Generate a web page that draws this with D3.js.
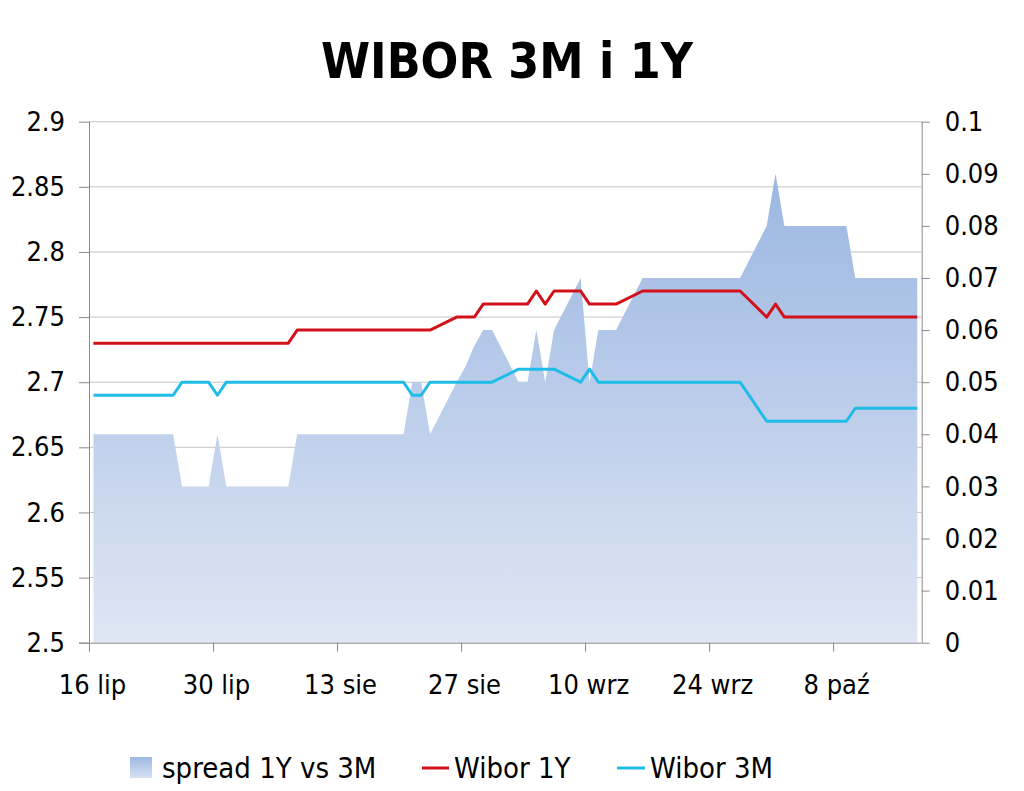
<!DOCTYPE html>
<html><head><meta charset="utf-8">
<script src="https://cdn.jsdelivr.net/npm/d3@7"></script>
<style>
html,body{margin:0;padding:0;background:#fff;}
svg{display:block;}
text{font-family:"DejaVu Sans Condensed","DejaVu Sans",Verdana,sans-serif;fill:#000;}
</style></head>
<body>
<svg id="chart" width="1024" height="791"></svg>
<script>
const dates = [
"2013-07-16","2013-07-17","2013-07-18","2013-07-19",
"2013-07-22","2013-07-23","2013-07-24","2013-07-25","2013-07-26",
"2013-07-29","2013-07-30","2013-07-31","2013-08-01","2013-08-02",
"2013-08-05","2013-08-06","2013-08-07","2013-08-08","2013-08-09",
"2013-08-12","2013-08-13","2013-08-14","2013-08-16",
"2013-08-19","2013-08-20","2013-08-21","2013-08-22","2013-08-23",
"2013-08-26","2013-08-27","2013-08-28","2013-08-29","2013-08-30",
"2013-09-02","2013-09-03","2013-09-04","2013-09-05","2013-09-06",
"2013-09-09","2013-09-10","2013-09-11","2013-09-12","2013-09-13",
"2013-09-16","2013-09-17","2013-09-18","2013-09-19","2013-09-20",
"2013-09-23","2013-09-24","2013-09-25","2013-09-26","2013-09-27",
"2013-09-30","2013-10-01","2013-10-02","2013-10-03","2013-10-04",
"2013-10-07","2013-10-08","2013-10-09","2013-10-10","2013-10-11",
"2013-10-14","2013-10-15","2013-10-16","2013-10-17"];

const wibor1Y = [
2.73,2.73,2.73,2.73,
2.73,2.73,2.73,2.73,2.73,
2.73,2.73,2.73,2.73,2.73,
2.73,2.73,2.73,2.74,2.74,
2.74,2.74,2.74,2.74,
2.74,2.74,2.74,2.74,2.74,
2.75,2.75,2.75,2.76,2.76,
2.76,2.76,2.77,2.76,2.77,
2.77,2.76,2.76,2.76,2.76,
2.77,2.77,2.77,2.77,2.77,
2.77,2.77,2.77,2.77,2.77,
2.75,2.76,2.75,2.75,2.75,
2.75,2.75,2.75,2.75,2.75,
2.75,2.75,2.75,2.75];

const wibor3M = [
2.69,2.69,2.69,2.69,
2.69,2.69,2.69,2.69,2.70,
2.70,2.69,2.70,2.70,2.70,
2.70,2.70,2.70,2.70,2.70,
2.70,2.70,2.70,2.70,
2.70,2.70,2.69,2.69,2.70,
2.70,2.70,2.70,2.70,2.70,
2.71,2.71,2.71,2.71,2.71,
2.70,2.71,2.70,2.70,2.70,
2.70,2.70,2.70,2.70,2.70,
2.70,2.70,2.70,2.70,2.70,
2.67,2.67,2.67,2.67,2.67,
2.67,2.67,2.67,2.68,2.68,
2.68,2.68,2.68,2.68];

const spread = [
0.04,0.04,0.04,0.04,
0.04,0.04,0.04,0.04,0.03,
0.03,0.04,0.03,0.03,0.03,
0.03,0.03,0.03,0.04,0.04,
0.04,0.04,0.04,0.04,
0.04,0.04,0.05,0.05,0.04,
0.05,0.053,0.057,0.06,0.06,
0.05,0.05,0.06,0.05,0.06,
0.07,0.05,0.06,0.06,0.06,
0.07,0.07,0.07,0.07,0.07,
0.07,0.07,0.07,0.07,0.07,
0.08,0.09,0.08,0.08,0.08,
0.08,0.08,0.08,0.07,0.07,
0.07,0.07,0.07,0.07];

const leftTicks = [2.5,2.55,2.6,2.65,2.7,2.75,2.8,2.85,2.9];
const rightTicks = [0,0.01,0.02,0.03,0.04,0.05,0.06,0.07,0.08,0.09,0.1];
const xTickDates = ["2013-07-16","2013-07-30","2013-08-13","2013-08-27","2013-09-10","2013-09-24","2013-10-08"];
const xTickLabels = ["16 lip","30 lip","13 sie","27 sie","10 wrz","24 wrz","8 paź"];
const seriesNames = ["spread 1Y vs 3M","Wibor 1Y","Wibor 3M"];
const title = "WIBOR 3M i 1Y";

const FONT = "DejaVu Sans Condensed, DejaVu Sans, Verdana, sans-serif";
const parse = d3.timeParse("%Y-%m-%d");
const svg = d3.select("#chart");
const L = 89, R = 921.7, T = 121.7, B = 642.7;

const x = d3.scaleTime().domain([parse("2013-07-16"), parse("2013-10-18")]).range([L, R]);
const yL = d3.scaleLinear().domain([2.5, 2.9]).range([B, T]);
const yR = d3.scaleLinear().domain([0, 0.1]).range([B, T]);
const mid = d => d3.timeHour.offset(parse(d), 12);

const data = dates.map((d, i) => ({t: mid(d), a: wibor1Y[i], b: wibor3M[i], s: spread[i]}));

const defs = svg.append("defs");
const grad = defs.append("linearGradient").attr("id","areaGrad")
  .attr("gradientUnits","userSpaceOnUse").attr("x1",0).attr("x2",0).attr("y1",T).attr("y2",B);
grad.append("stop").attr("offset","0").attr("stop-color","#93b1df");
grad.append("stop").attr("offset","1").attr("stop-color","#dfe6f4");
const lgrad = defs.append("linearGradient").attr("id","legGrad")
  .attr("x1",0).attr("x2",0).attr("y1",0).attr("y2",1);
lgrad.append("stop").attr("offset","0").attr("stop-color","#9db8e2");
lgrad.append("stop").attr("offset","1").attr("stop-color","#d8e1f2");

// title
svg.append("text").attr("x", 507).attr("y", 78).attr("text-anchor","middle")
  .attr("font-size", 49.5).attr("font-weight","bold").text(title);

// gridlines
svg.append("g").selectAll("line").data(leftTicks.filter(v => v > 2.5)).join("line")
  .attr("x1", L).attr("x2", R).attr("y1", d => yL(d)).attr("y2", d => yL(d))
  .attr("stroke", "#c4c4c4").attr("stroke-width", 1);

// area
svg.append("path").datum(data)
  .attr("d", d3.area().x(d => x(d.t)).y0(yR(0)).y1(d => yR(d.s)))
  .attr("fill", "url(#areaGrad)");

// lines
svg.append("path").datum(data)
  .attr("d", d3.line().x(d => x(d.t)).y(d => yL(d.a)))
  .attr("fill","none").attr("stroke","#d2121b").attr("stroke-width",3).attr("stroke-linejoin","round");
svg.append("path").datum(data)
  .attr("d", d3.line().x(d => x(d.t)).y(d => yL(d.b)))
  .attr("fill","none").attr("stroke","#1fbce8").attr("stroke-width",3).attr("stroke-linejoin","round");

const axisColor = "#8a8a8a";
const gl = svg.append("g").attr("transform", `translate(${L},0)`)
  .call(d3.axisLeft(yL).tickValues(leftTicks).tickSize(10).tickPadding(14).tickFormat(d => String(+d.toFixed(2))));
const gr = svg.append("g").attr("transform", `translate(${R},0)`)
  .call(d3.axisRight(yR).tickValues(rightTicks).tickSize(8).tickPadding(15).tickFormat(d => String(+d.toFixed(2))));
const gb = svg.append("g").attr("transform", `translate(0,${B})`)
  .call(d3.axisBottom(x).tickValues(xTickDates.map(parse)).tickSize(9)
    .tickFormat((d, i) => xTickLabels[i]));
gb.selectAll(".tick text").attr("y", 51).attr("dy", 0).attr("dx", 3);
gb.select(".domain").attr("d", `M${L - 10},0.5H${R}`);

[gl, gr, gb].forEach(g => {
  g.select(".domain").attr("stroke", axisColor);
  g.selectAll(".tick line").attr("stroke", axisColor);
  g.selectAll(".tick text").attr("font-size", 27).attr("fill","#000").attr("font-family", FONT);
});
gl.select(".domain").attr("d", `M0.5,${T}V${B}`);
gr.select(".domain").attr("d", `M0.5,${T}V${B}`);

// legend
const leg = svg.append("g").attr("font-size", 29);
leg.append("rect").attr("x", 130).attr("y", 757).attr("width", 22).attr("height", 21).attr("fill","url(#legGrad)");
leg.append("text").attr("x", 162).attr("y", 778).text(seriesNames[0]);
leg.append("line").attr("x1", 422).attr("x2", 449).attr("y1", 768).attr("y2", 768).attr("stroke","#d2121b").attr("stroke-width",3);
leg.append("text").attr("x", 454).attr("y", 778).text(seriesNames[1]);
leg.append("line").attr("x1", 617).attr("x2", 645).attr("y1", 768).attr("y2", 768).attr("stroke","#1fbce8").attr("stroke-width",3);
leg.append("text").attr("x", 650).attr("y", 778).text(seriesNames[2]);
</script>
</body></html>
